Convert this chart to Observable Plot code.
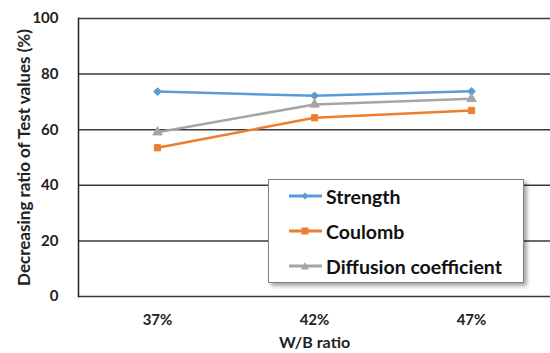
<!DOCTYPE html>
<html>
<head>
<meta charset="utf-8">
<script src="https://cdn.jsdelivr.net/npm/d3@7"></script>
<script src="https://cdn.jsdelivr.net/npm/@observablehq/plot@0.6"></script>
<style>
  html, body { margin: 0; padding: 0; background: #fff; }
  #wrap { position: relative; width: 550px; height: 353px; font-family: Lato, "Open Sans", sans-serif; }
  #legend { position: absolute; left: 268px; top: 179px; width: 256px; height: 104px; border: 1px solid #7f7f7f; background: #fff; box-shadow: 3px 3px 4px rgba(0,0,0,0.35); box-sizing: border-box; }
  .item { position: absolute; left: 20px; height: 22px; display: flex; align-items: center; font-weight: bold; font-size: 19.5px; color: #111; white-space: nowrap; }
  .item svg { margin-right: 4px; }
</style>
</head>
<body>
<div id="wrap"></div>
<script>
const categories = ["37%", "42%", "47%"];
const seriesNames = ["Strength", "Coulomb", "Diffusion coefficient"];
const strength = [73.7, 72.2, 73.8];
const coulomb = [53.5, 64.3, 66.9];
const diffusion = [59.1, 69.1, 71.1];
const yTicks = [0, 20, 40, 60, 80, 100];
const colors = ["#5B9BD5", "#ED7D31", "#A5A5A5"];
const symbols = ["diamond2", "square", "triangle"];

const valuesBySeries = [strength, coulomb, diffusion];
const data = seriesNames.flatMap((s, i) => categories.map((c, j) => ({series: s, cat: c, value: valuesBySeries[i][j]})));

const chart = Plot.plot({
  width: 550,
  height: 353,
  marginLeft: 78,
  marginRight: 0,
  marginTop: 18,
  marginBottom: 57,
  style: {fontFamily: "Lato, 'Open Sans', sans-serif", fontWeight: "bold", fontSize: "15px", color: "#222", background: "#fff"},
  x: {type: "point", domain: categories, padding: 0.5},
  y: {domain: [0, 100]},
  color: {domain: seriesNames, range: colors},
  symbol: {domain: seriesNames, range: symbols},
  marks: [
    Plot.ruleY(yTicks, {stroke: "#3a3a3a", strokeWidth: 1.5}),
    Plot.frame({anchor: "left", stroke: "#222", strokeWidth: 1.5}),
    Plot.axisY(yTicks, {tickSize: 0, tickPadding: 20, label: "Decreasing ratio of Test values (%)", labelAnchor: "center", labelArrow: "none", labelOffset: 61, fontSize: 15, fontWeight: "bold"}),
    Plot.axisX({tickSize: 0, tickPadding: 18, label: "W/B ratio", labelAnchor: "center", labelArrow: "none", labelOffset: 51, fontSize: 15}),
    Plot.line(data, {x: "cat", y: "value", z: "series", stroke: "series", strokeWidth: 2.5}),
    Plot.dot(data, {x: "cat", y: "value", symbol: "series", fill: "series", stroke: "series", r: 3.5, strokeWidth: 1})
  ]
});
chart.querySelectorAll("[aria-label='y-axis label'] text").forEach(t => { t.style.fontSize = "17px"; });
chart.querySelectorAll("[aria-label='x-axis label'] text").forEach(t => { t.style.fontSize = "16px"; });
document.getElementById("wrap").appendChild(chart);

const legend = document.createElement("div");
legend.id = "legend";
const shapes = [
  c => `<path d="M16 1.5 L19.5 5 L16 8.5 L12.5 5 Z" fill="${c}"/>`,
  c => `<rect x="12.5" y="1.5" width="7" height="7" fill="${c}"/>`,
  c => `<path d="M16 1 L20 8.5 L12 8.5 Z" fill="${c}"/>`
];
seriesNames.forEach((s, i) => {
  const d = document.createElement("div");
  d.className = "item";
  d.style.top = (5 + i * 35) + "px";
  d.innerHTML = `<svg width="33" height="10"><line x1="0" x2="33" y1="5" y2="5" stroke="${colors[i]}" stroke-width="3"/>${shapes[i](colors[i])}</svg><span>${s}</span>`;
  legend.appendChild(d);
});
document.getElementById("wrap").appendChild(legend);
</script>
</body>
</html>
